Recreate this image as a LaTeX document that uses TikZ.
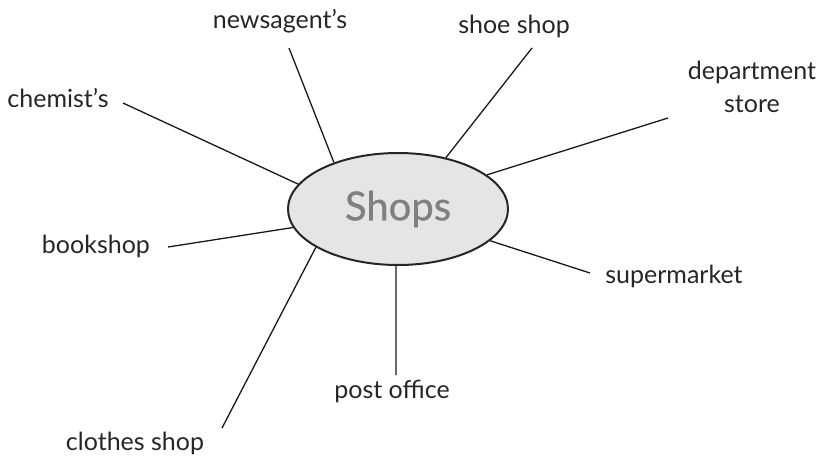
\documentclass[tikz,border=0pt]{standalone}
\usepackage{fontspec}
\setmainfont{Lato}
\newfontfamily\hubfont[FakeBold=0.8]{Lato}
\usetikzlibrary{shapes.geometric}

\begin{document}
\begin{tikzpicture}[x=1pt,y=-1pt,every node/.style={font=\fontsize{25}{33}\selectfont,text=black!85},
  shop/.style={anchor=base,inner sep=0pt,align=center},
  spoke/.style={line width=1.3pt,black!90}]
\useasboundingbox (0,0) rectangle (821,459);
\node[draw=black!85,line width=2pt,fill=black!10,ellipse,minimum width=220pt,minimum height=112pt,inner sep=0pt,text=black!50,font=\hubfont\fontsize{40}{40}\selectfont] (shops) at (398,209) {Shops};
\node[shop] (news) at (280,28) {newsagent's};
\node[shop] (shoe) at (514,33) {shoe shop};
\node[shop] (chem) at (58,107) {chemist's};
\node[shop] (dept) at (752,112) {department\\store};
\node[shop] (book) at (96,253) {bookshop};
\node[shop] (super) at (674,283) {supermarket};
\node[shop] (post) at (392,398) {post office};
\node[shop] (clothes) at (135,450) {clothes shop};
\coordinate (news-end) at (289,48);
\coordinate (shoe-end) at (532,48);
\coordinate (chem-end) at (123,103);
\coordinate (dept-end) at (668,118);
\coordinate (book-end) at (168,247);
\coordinate (super-end) at (590,273);
\coordinate (post-end) at (396,375);
\coordinate (clothes-end) at (222,428);
\draw[spoke] (shops.144)--(news-end);
\draw[spoke] (shops.47)--(shoe-end);
\draw[spoke] (shops.166)--(chem-end);
\draw[spoke] (shops.21)--(dept-end);
\draw[spoke] (shops.190)--(book-end);
\draw[spoke] (shops.341)--(super-end);
\draw[spoke] (shops.268)--(post-end);
\draw[spoke] (shops.205)--(clothes-end);
\end{tikzpicture}
\end{document}
